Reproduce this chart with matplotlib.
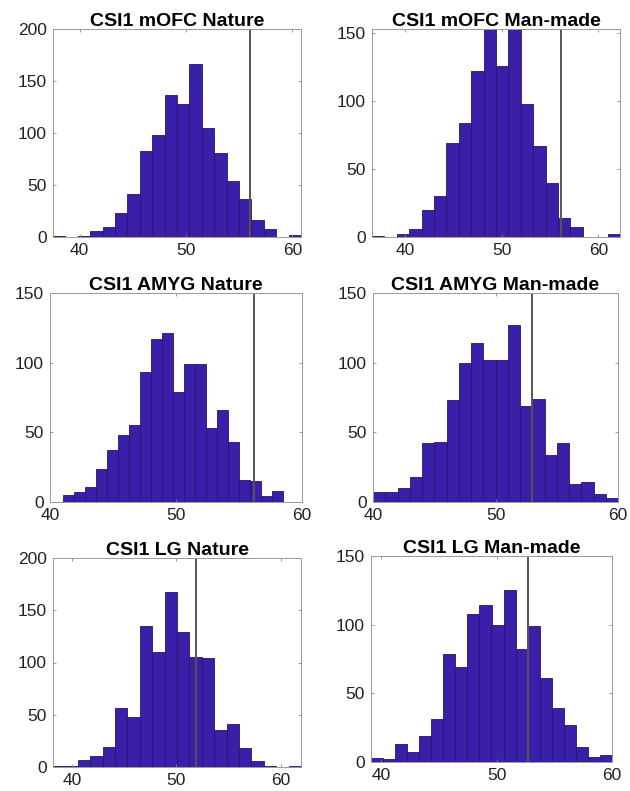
import numpy as np
import matplotlib
matplotlib.use('Agg')
import matplotlib.pyplot as plt

plt.rcParams['font.family'] = ['Liberation Sans', 'DejaVu Sans']

# titulos dos paineis
titles = ['CSI1 mOFC Nature', 'CSI1 mOFC Man-made',
          'CSI1 AMYG Nature', 'CSI1 AMYG Man-made',
          'CSI1 LG Nature', 'CSI1 LG Man-made']

# contagens por bin (20 bins cada)
counts_mofc_nat = [1, 0, 1, 6, 10, 23, 41, 83, 98, 137, 128, 166, 105, 81, 54, 37, 16, 8, 0, 2]
counts_mofc_man = [1, 0, 2, 6, 20, 30, 69, 84, 122, 157, 126, 155, 98, 67, 40, 14, 7, 0, 0, 2]
counts_amyg_nat = [5, 7, 11, 24, 37, 48, 55, 93, 117, 121, 79, 99, 99, 53, 66, 43, 16, 15, 4, 8]
counts_amyg_man = [7, 7, 10, 18, 42, 43, 73, 100, 114, 102, 102, 127, 69, 74, 34, 42, 13, 14, 6, 3]
counts_lg_nat = [1, 1, 7, 11, 19, 56, 48, 135, 110, 167, 129, 105, 104, 35, 41, 18, 6, 1, 0, 1]
counts_lg_man = [3, 2, 13, 7, 19, 31, 79, 69, 108, 114, 100, 125, 82, 99, 61, 39, 27, 11, 4, 5]
all_counts = [counts_mofc_nat, counts_mofc_man, counts_amyg_nat,
              counts_amyg_man, counts_lg_nat, counts_lg_man]

# primeira borda e largura dos bins
bin_start = [37.5, 36.55, 41.0, 40.0, 38.2, 39.1]
bin_width = [1.165, 1.285, 0.875, 1.0, 1.185, 1.045]

# valor observado (linha vertical)
observed = [56.0, 56.1, 56.2, 53.0, 51.9, 52.7]

# limites
xlims = [(37.5, 60.8), (36.55, 62.25), (40, 60), (40, 60), (38.2, 61.9), (39.1, 60.0)]
ylims = [200, 153, 150, 150, 200, 150]
yticks = [[0, 50, 100, 150, 200], [0, 50, 100, 150], [0, 50, 100, 150],
          [0, 50, 100, 150], [0, 50, 100, 150, 200], [0, 50, 100, 150]]

# posicao dos eixos em pixels (left, right, top, bottom)
W, H = 630, 791
boxes = [(53, 301, 29, 237), (372, 620, 29, 237),
         (50, 302, 293, 502), (373, 618, 293, 502),
         (53, 301, 558, 767), (371, 612, 556, 762)]

fig = plt.figure(figsize=(W / 100, H / 100), dpi=100)

for i in range(6):
    l, r, t, b = boxes[i]
    ax = fig.add_axes([l / W, 1 - b / H, (r - l) / W, (b - t) / H])
    edges = bin_start[i] + bin_width[i] * np.arange(len(all_counts[i]) + 1)
    ax.bar(edges[:-1], all_counts[i], width=bin_width[i], align='edge',
           color='#3a20a8', edgecolor='#26156e', linewidth=0.6)
    ax.axvline(observed[i], color='#555555', linewidth=1.4)
    ax.set_xlim(*xlims[i])
    ax.set_ylim(0, ylims[i])
    ax.set_xticks([40, 50, 60])
    ax.set_yticks(yticks[i])
    ax.set_title(titles[i], fontsize=14, fontweight='bold', pad=2)
    ax.tick_params(direction='in', length=2.5, width=0.6, color='#888888',
                   labelsize=12.5, top=True, right=True, pad=4.5, labelcolor='#222222')
    for s in ax.spines.values():
        s.set_color('#999999')
        s.set_linewidth(0.7)

fig.savefig('out.png', dpi=100)
